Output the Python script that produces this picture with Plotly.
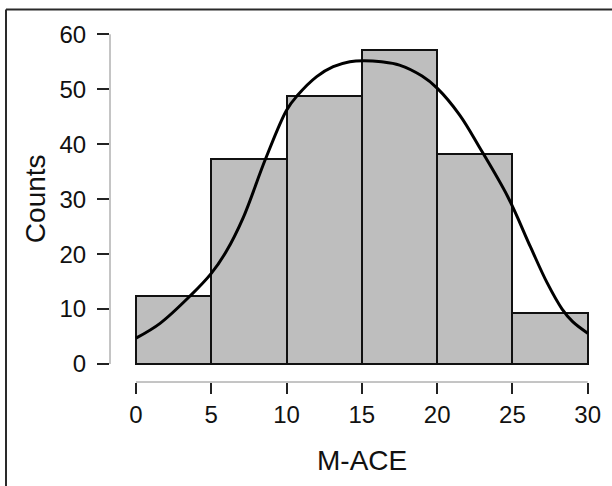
import plotly.graph_objects as go

# Histogram bins (left edges) and counts
bin_left = [0, 5, 10, 15, 20, 25]
bin_width = 5
counts = [12.4, 37.3, 48.8, 57.1, 38.3, 9.2]

# Density curve (scaled to counts)
curve_x = [0, 1.6, 3.6, 5.0, 6.0, 7.1, 8.6, 10.0, 10.7, 12.0, 13.1, 14.2, 15.1, 16.3, 17.5,
           19.0, 20.0, 21.5, 22.8, 24.7, 26.2, 27.3, 28.3, 29.0, 30.0]
curve_y = [4.7, 7.4, 12.4, 16.5, 20.5, 26.5, 37.3, 46.2, 48.8, 52.3, 54.1, 55.0, 55.2, 55.0, 54.4,
           52.4, 50.2, 45.3, 39.5, 30.4, 21.3, 14.8, 10.0, 7.7, 5.6]

x_ticks = [0, 5, 10, 15, 20, 25, 30]
y_ticks = [0, 10, 20, 30, 40, 50, 60]
x_title = "M-ACE"
y_title = "Counts"

FONT = "Liberation Sans, Arial, Helvetica, sans-serif"
TXT = "#111111"

W, H = 612, 486
ML, MR, MT, MB = 110, 12, 20, 104
pw, ph = W - ML - MR, H - MT - MB

def px_x(p):
    return (p - ML) / pw

def px_y(p):
    return (H - MB - p) / ph

fig = go.Figure()
fig.add_trace(go.Bar(
    x=[b + bin_width / 2 for b in bin_left],
    y=counts,
    width=bin_width,
    marker=dict(color="#bebebe", line=dict(color="#111111", width=2)),
    showlegend=False,
    hoverinfo="skip",
))
fig.add_trace(go.Scatter(
    x=curve_x, y=curve_y, mode="lines",
    line=dict(color="#000000", width=3, shape="spline", smoothing=1.0),
    showlegend=False, hoverinfo="skip",
))

shapes = [
    # R-style axis lines spanning first to last tick
    dict(type="line", xref="x", yref="paper", x0=0, x1=30, y0=0, y1=0,
         line=dict(color="#8a8a8a", width=1)),
    dict(type="line", xref="paper", yref="y", x0=0, x1=0, y0=0, y1=60,
         line=dict(color="#8a8a8a", width=1)),
    # outer frame (top & left visible)
    dict(type="line", xref="paper", yref="paper", x0=px_x(6), x1=1.1, y0=px_y(9.5), y1=px_y(9.5),
         line=dict(color="#2a2a2a", width=2)),
    dict(type="line", xref="paper", yref="paper", x0=px_x(6), x1=px_x(6), y0=px_y(9.5), y1=-0.4,
         line=dict(color="#2a2a2a", width=2)),
]

annotations = [
    dict(text=x_title, xref="x", yref="paper", x=15, y=px_y(460), xanchor="center", yanchor="middle",
         showarrow=False, font=dict(size=28, family=FONT, color=TXT)),
    dict(text=y_title, xref="paper", yref="y", x=px_x(35), y=30, xanchor="center", yanchor="middle",
         textangle=-90, showarrow=False, font=dict(size=28, family=FONT, color=TXT)),
]

fig.update_layout(
    width=W, height=H,
    margin=dict(l=ML, r=MR, t=MT, b=MB),
    paper_bgcolor="white", plot_bgcolor="white",
    bargap=0,
    font=dict(family=FONT, color=TXT),
    shapes=shapes,
    annotations=annotations,
    xaxis=dict(
        range=[-26 / 15.057, 30 + 12.3 / 15.057],
        tickvals=x_ticks, ticktext=[str(v) for v in x_ticks],
        ticks="outside", ticklen=11, tickwidth=2, tickcolor="#222222",
        showline=False, showgrid=False, zeroline=False,
        tickfont=dict(size=24, family=FONT, color=TXT),
    ),
    yaxis=dict(
        range=[-18 / 5.495, 60 + 14.3 / 5.495],
        tickvals=y_ticks, ticktext=[str(v) for v in y_ticks],
        ticks="outside", ticklen=12, tickwidth=2, tickcolor="#222222",
        ticklabelstandoff=6,
        showline=False, showgrid=False, zeroline=False,
        tickfont=dict(size=24, family=FONT, color=TXT),
    ),
)

fig.write_html("out.html", config={"displayModeBar": False},
               post_script="document.body.style.margin='0';document.body.style.overflow='hidden';")
